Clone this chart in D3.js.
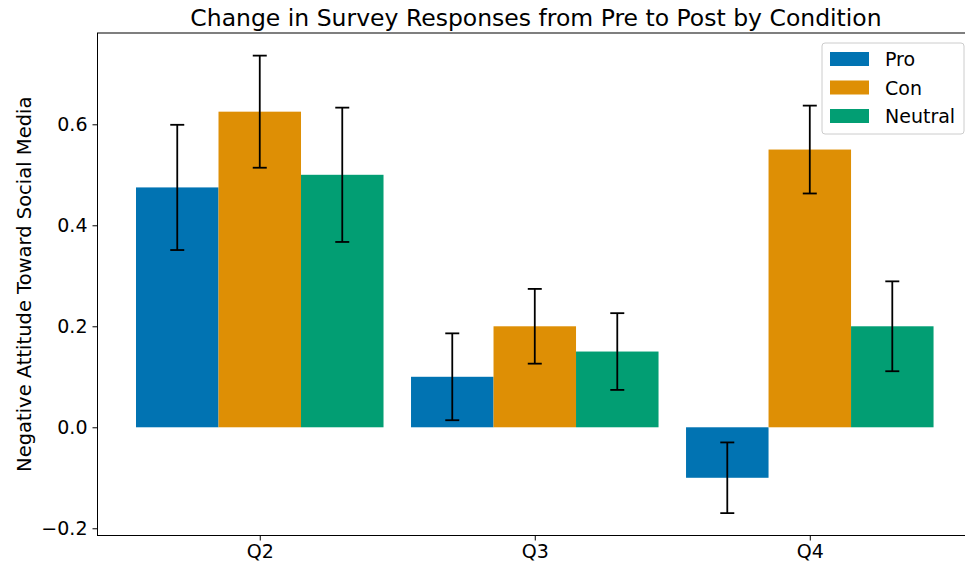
<!DOCTYPE html>
<html lang="en">
<head>
<meta charset="UTF-8">
<title>Change in Survey Responses</title>
<script src="https://d3js.org/d3.v7.min.js"></script>
<style>
  body { margin: 0; background: #fff; }
  text { font-family: "DejaVu Sans", sans-serif; fill: #000; }
</style>
</head>
<body>
<svg id="main" width="965" height="566"></svg>
<script>
// data
const questions = ['Q2', 'Q3', 'Q4'];
const conditions = ['Pro', 'Con', 'Neutral'];
const colors = ['#0173b2', '#de8f05', '#029e73'];
const proVals = [0.475, 0.10, -0.10];
const conVals = [0.625, 0.20, 0.55];
const neutralVals = [0.50, 0.15, 0.20];
const proErr = [0.124, 0.086, 0.070];
const conErr = [0.111, 0.074, 0.087];
const neutralErr = [0.133, 0.076, 0.089];
const yTicks = [-0.2, 0.0, 0.2, 0.4, 0.6];

const values = [proVals, conVals, neutralVals];
const errors = [proErr, conErr, neutralErr];

const plotLeft = 97.5, plotRight = 966, plotTop = 33, plotBottom = 535.5;
const svg = d3.select('svg#main');

// x: numeric index scale like matplotlib
const x = d3.scaleLinear().domain([-0.59, 2.568]).range([plotLeft, plotRight]);
const y = d3.scaleLinear().domain([-0.2143, 0.7808]).range([plotBottom, plotTop]);
const barW = 0.3;

const rows = [];
conditions.forEach(function(c, ci) {
    questions.forEach(function(q, qi) {
        rows.push({ci: ci, qi: qi, v: values[ci][qi], e: errors[ci][qi]});
    });
});

svg.selectAll('rect.bar')
    .data(rows)
    .enter()
    .append('rect')
    .attr('class', 'bar')
    .attr('x', function(d) { return x(d.qi + (d.ci - 1) * barW - barW / 2); })
    .attr('width', function(d) { return x(barW) - x(0); })
    .attr('y', function(d) { return y(Math.max(0, d.v)); })
    .attr('height', function(d) { return Math.abs(y(d.v) - y(0)); })
    .style('fill', function(d) { return colors[d.ci]; });

// error bars
const eb = svg.selectAll('g.err')
    .data(rows)
    .enter()
    .append('g')
    .attr('class', 'err')
    .attr('stroke', '#000')
    .attr('stroke-width', 1.8);
eb.append('line')
    .attr('x1', function(d) { return x(d.qi + (d.ci - 1) * barW); })
    .attr('x2', function(d) { return x(d.qi + (d.ci - 1) * barW); })
    .attr('y1', function(d) { return y(d.v - d.e); })
    .attr('y2', function(d) { return y(d.v + d.e); });
[-1, 1].forEach(function(s) {
    eb.append('line')
        .attr('x1', function(d) { return x(d.qi + (d.ci - 1) * barW) - 7; })
        .attr('x2', function(d) { return x(d.qi + (d.ci - 1) * barW) + 7; })
        .attr('y1', function(d) { return y(d.v + s * d.e); })
        .attr('y2', function(d) { return y(d.v + s * d.e); });
});

// axes
const yAxis = d3.axisLeft(y).tickValues(yTicks).tickSize(5).tickPadding(5)
    .tickFormat(function(d) { return d3.format('.1f')(d).replace('-', '\u2212'); });
const gy = svg.append('g').attr('transform', 'translate(' + plotLeft + ',0)').call(yAxis);
gy.select('.domain').remove();
gy.selectAll('text').style('font-size', '19px');
gy.selectAll('line').attr('stroke', '#000').attr('stroke-width', 1);

const xAxis = d3.axisBottom(x).tickValues([0, 1, 2]).tickSize(5).tickPadding(4)
    .tickFormat(function(d) { return questions[d]; });
const gx = svg.append('g').attr('transform', 'translate(0,' + plotBottom + ')').call(xAxis);
gx.select('.domain').remove();
gx.selectAll('text').style('font-size', '19px');

// spines
svg.append('rect')
    .attr('x', plotLeft).attr('y', plotTop)
    .attr('width', plotRight - plotLeft).attr('height', plotBottom - plotTop)
    .attr('fill', 'none').attr('stroke', '#000').attr('stroke-width', 1);

// title & label
svg.append('text')
    .attr('x', 536).attr('y', 26)
    .attr('text-anchor', 'middle')
    .style('font-size', '23.5px')
    .text('Change in Survey Responses from Pre to Post by Condition');

svg.append('text')
    .attr('transform', 'translate(31,' + ((plotTop + plotBottom) / 2) + ') rotate(-90)')
    .attr('text-anchor', 'middle')
    .style('font-size', '19.5px')
    .text('Negative Attitude Toward Social Media');

// legend
const lg = svg.append('g').attr('transform', 'translate(822,43)');
lg.append('rect')
    .attr('width', 142).attr('height', 91).attr('rx', 3)
    .attr('fill', '#fff').attr('fill-opacity', 0.8)
    .attr('stroke', '#ccc').attr('stroke-width', 1);
const items = lg.selectAll('g.item')
    .data(conditions)
    .enter()
    .append('g')
    .attr('transform', function(d, i) { return 'translate(8,' + (9 + i * 28.5) + ')'; });
items.append('rect')
    .attr('width', 39).attr('height', 14)
    .style('fill', function(d, i) { return colors[i]; });
items.append('text')
    .attr('x', 55).attr('y', 14)
    .style('font-size', '19px')
    .text(function(d) { return d; });
</script>
</body>
</html>
